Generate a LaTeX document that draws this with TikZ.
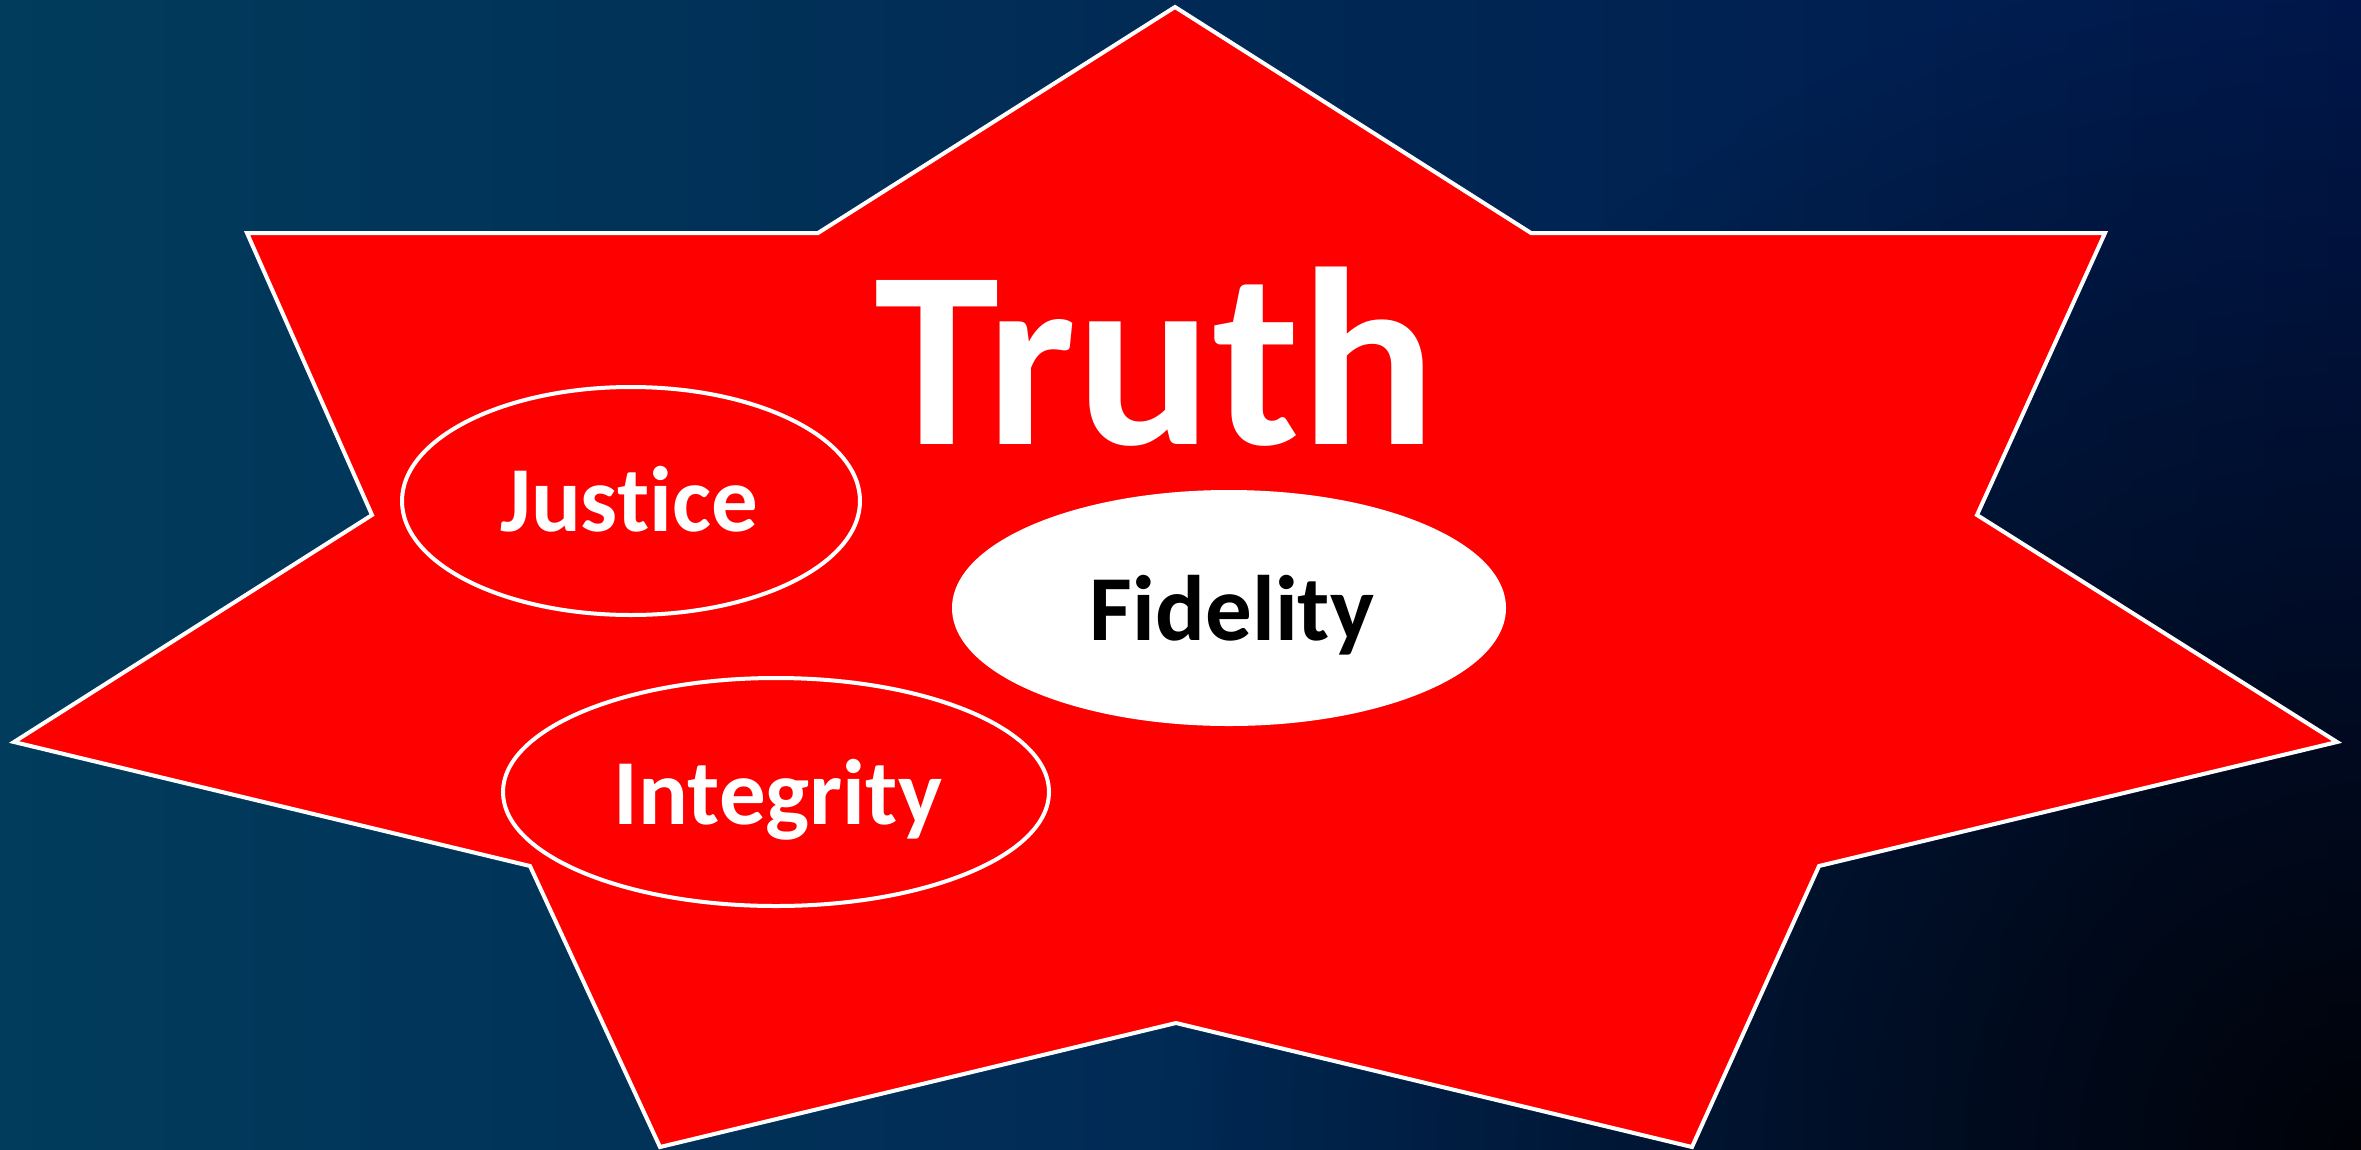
\documentclass[tikz,border=0pt]{standalone}
\usepackage{fontspec}
\setmainfont{Carlito}[Ligatures={NoCommon}]
\usetikzlibrary{shapes.geometric,fadings}
\tikzfading[name=cornerfade, inner color=transparent!10, outer color=transparent!100]
\definecolor{bgleft}{RGB}{1,60,92}
\definecolor{bgright}{RGB}{0,24,78}
\definecolor{starred}{RGB}{255,0,0}
\begin{document}
\begin{tikzpicture}[x=1pt,y=-1pt,
  starshape/.style={fill=starred, draw=white, line width=4pt, line join=miter},
  ring/.style={ellipse, draw=white, line width=4pt, inner sep=0pt},
  bigword/.style={text=white, font=\fontsize{253}{253}\selectfont\bfseries, inner sep=0pt, anchor=base},
  word/.style={text=white, font=\fontsize{93}{93}\selectfont\bfseries, inner sep=0pt, anchor=base}]
\useasboundingbox (0,0) rectangle (2361,1149);
\begin{scope}
\clip (0,0) rectangle (2361,1149);
% background
\shade[left color=bgleft, right color=bgright] (0,0) rectangle (2361,1149);
\fill[black, path fading=cornerfade, fit fading=true] (2361,1149) circle (1200);
% star
\draw[starshape] (1175,7) -- (1531,233) -- (2105,233) -- (1977,515) -- (2337,742)
  -- (1819,866) -- (1692,1147) -- (1176,1023) -- (660,1147) -- (530,866)
  -- (14,742) -- (372,515) -- (247,233) -- (818,233) -- cycle;
\end{scope}
% ellipses
\node[ring, minimum width=458pt, minimum height=228pt] (justiceE) at (631,501) {};
\node[ring, fill=white, minimum width=550pt, minimum height=232pt] (fidelityE) at (1229,608) {};
\node[ring, minimum width=546pt, minimum height=228pt] (integrityE) at (776,792) {};
% texts
\node[bigword] (truth) at (1155,444) {Truth};
\node[word] (justice) at (629,531) {Justice};
\node[word, text=black] (fidelity) at (1232,640) {Fidelity};
\node[word] (integrity) at (778,824) {Integrity};
\end{tikzpicture}
\end{document}
